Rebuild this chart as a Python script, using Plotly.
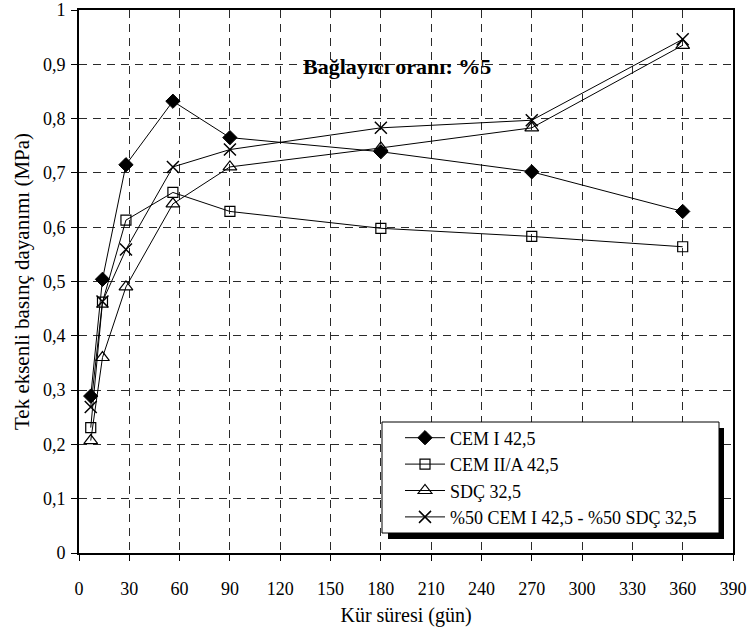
import plotly.graph_objects as go

# Curing time (days) and uniaxial compressive strength (MPa), binder ratio 5 %
days = [7, 14, 28, 56, 90, 180, 270, 360]
cem_i = [0.289, 0.504, 0.715, 0.832, 0.765, 0.739, 0.702, 0.629]
cem_ii_a = [0.231, 0.462, 0.613, 0.664, 0.629, 0.598, 0.583, 0.564]
sdc = [0.207, 0.360, 0.490, 0.643, 0.711, 0.746, 0.783, 0.935]
mix_50_50 = [0.269, 0.463, 0.559, 0.711, 0.743, 0.783, 0.797, 0.946]

series_names = ["CEM I 42,5", "CEM II/A 42,5", "SDÇ 32,5",
                "%50 CEM I 42,5 - %50 SDÇ 32,5"]
x_ticks = list(range(0, 391, 30))
y_ticks = [round(0.1 * i, 1) for i in range(11)]

FONT = "Liberation Serif"
W, H = 751, 633
M_L, M_R, M_T, M_B = 79, 18, 10, 80
plot_w, plot_h = W - M_L - M_R, H - M_T - M_B


def px_to_paper(px, py):
    """Convert page pixel position to paper coordinates."""
    return (px - M_L) / plot_w, (H - M_B - py) / plot_h


marker_styles = [
    dict(symbol="diamond", size=11, color="black", line=dict(color="black", width=1)),
    dict(symbol="square-open", size=10, color="black", line=dict(color="black", width=1.2)),
    dict(symbol="triangle-up-open", size=12, color="black", line=dict(color="black", width=1.2)),
    dict(symbol="x-thin-open", size=12, color="black", line=dict(color="black", width=1.5)),
]

fig = go.Figure()
for name, values, mk in zip(series_names, [cem_i, cem_ii_a, sdc, mix_50_50], marker_styles):
    fig.add_trace(go.Scatter(
        x=days, y=values, name=name, mode="lines+markers",
        line=dict(color="black", width=1), marker=mk,
    ))

axis_common = dict(
    showline=True, linecolor="black", linewidth=2, mirror=True,
    ticks="outside", ticklen=6, tickcolor="black", tickwidth=1,
    showgrid=True, gridcolor="#2a2a2a", gridwidth=1, griddash="8px,6px",
    zeroline=False, automargin=False,
    tickfont=dict(family=FONT, size=18, color="black"),
)

fig.update_xaxes(
    range=[0, 390], tickvals=x_ticks, ticklabelstandoff=12,
    title=dict(text="Kür süresi (gün)", font=dict(family=FONT, size=20, color="black"), standoff=10),
    **axis_common,
)
fig.update_yaxes(
    range=[0, 1], tickvals=y_ticks, ticklabelstandoff=2,
    title=dict(text="Tek eksenli basınç dayanımı (MPa)", font=dict(family=FONT, size=21, color="black"), standoff=8),
    **axis_common,
)

# Legend frame with drop shadow
box_x0, box_y0 = px_to_paper(382, 533)
box_x1, box_y1 = px_to_paper(719, 422)
sh_x0, sh_y0 = px_to_paper(388, 539)
sh_x1, sh_y1 = px_to_paper(724, 428)
fig.add_shape(type="rect", xref="paper", yref="paper",
              x0=sh_x0, x1=sh_x1, y0=sh_y0, y1=sh_y1,
              fillcolor="black", line=dict(width=0), layer="above")
fig.add_shape(type="rect", xref="paper", yref="paper",
              x0=box_x0, x1=box_x1, y0=box_y0, y1=box_y1,
              fillcolor="white", line=dict(color="black", width=1), layer="above")

leg_x, leg_y = px_to_paper(400, 477.5)

fig.add_annotation(text="<b>Bağlayıcı oranı: %5</b>", xref="paper", yref="paper",
                   x=0.487, y=0.923, showarrow=False,
                   font=dict(family=FONT, size=22, color="black"))

fig.update_layout(
    width=W, height=H,
    margin=dict(l=M_L, r=M_R, t=M_T, b=M_B),
    paper_bgcolor="white", plot_bgcolor="white",
    separators=",.",
    font=dict(family=FONT, color="black"),
    showlegend=True,
    legend=dict(x=leg_x, y=leg_y, xanchor="left", yanchor="middle",
                bgcolor="rgba(0,0,0,0)", borderwidth=0,
                font=dict(family=FONT, size=18, color="black"),
                itemwidth=40, tracegroupgap=0),
)

fig.write_html("out.html")
